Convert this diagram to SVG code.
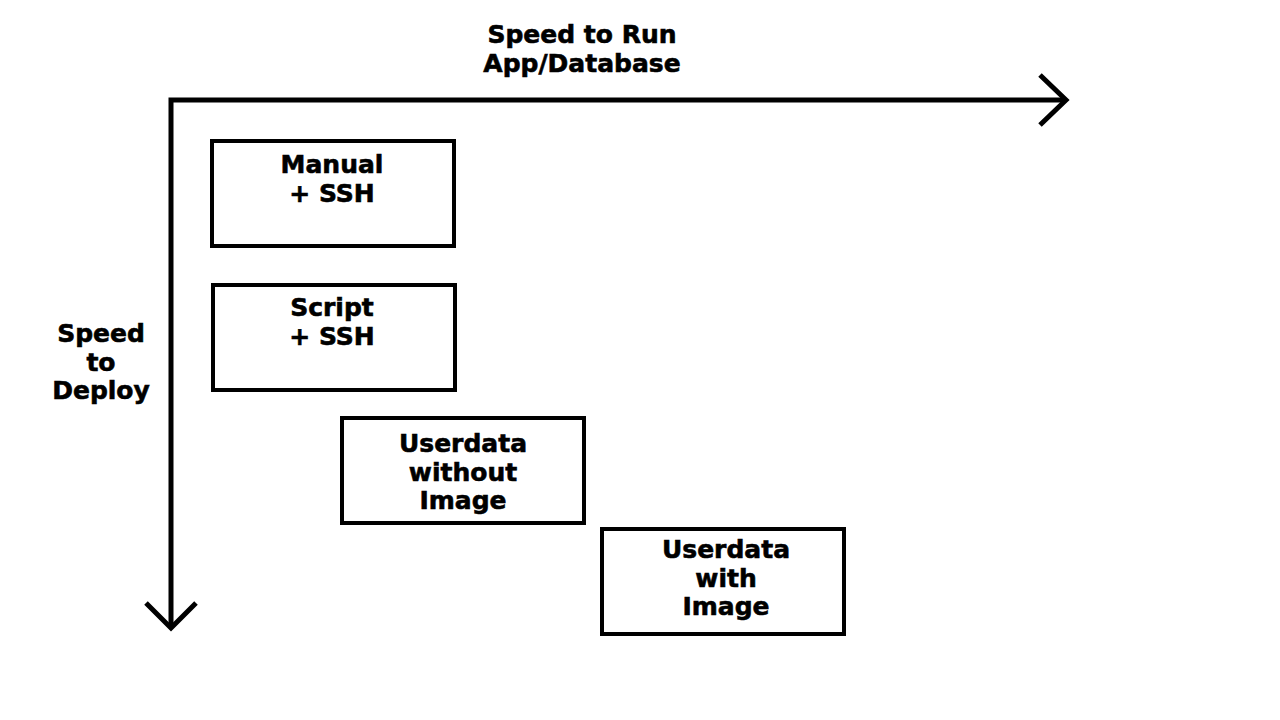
<svg xmlns="http://www.w3.org/2000/svg" width="1280" height="720" viewBox="0 0 1280 720">
<style>
.t{font-family:"DejaVu Sans","Liberation Sans",sans-serif;font-weight:bold;font-size:25px;fill:#000;stroke:#000;stroke-width:0.6;text-anchor:middle}
.box{fill:#fff;stroke:#000;stroke-width:4}
.ax{fill:none;stroke:#000;stroke-width:5}
</style>
<rect width="1280" height="720" fill="#fff"/>
<g id="connectors">
<path class="ax" d="M171,628 V100 H1066"/>
<path class="ax" d="M1040,75 L1066,100 L1040,125"/>
<path class="ax" d="M146,603 L171,628 L196,603"/>
</g>
<g id="label-x">
<text class="t" x="582" y="43">Speed to Run</text>
<text class="t" x="582" y="72">App/Database</text>
</g>
<g id="label-y">
<text class="t" x="101" y="342">Speed</text>
<text class="t" x="101" y="371">to</text>
<text class="t" x="101" y="399">Deploy</text>
</g>
<g id="manual">
<rect class="box" x="212" y="141" width="242" height="105"/>
<text class="t" x="332" y="173">Manual</text>
<text class="t" x="332" y="202">+ SSH</text>
</g>
<g id="script">
<rect class="box" x="213" y="285" width="242" height="105"/>
<text class="t" x="332" y="316">Script</text>
<text class="t" x="332" y="345">+ SSH</text>
</g>
<g id="userdata-without">
<rect class="box" x="342" y="418" width="242" height="105"/>
<text class="t" x="463" y="452">Userdata</text>
<text class="t" x="463" y="481">without</text>
<text class="t" x="463" y="509">Image</text>
</g>
<g id="userdata-with">
<rect class="box" x="602" y="529" width="242" height="105"/>
<text class="t" x="726" y="558">Userdata</text>
<text class="t" x="726" y="587">with</text>
<text class="t" x="726" y="615">Image</text>
</g>
</svg>
